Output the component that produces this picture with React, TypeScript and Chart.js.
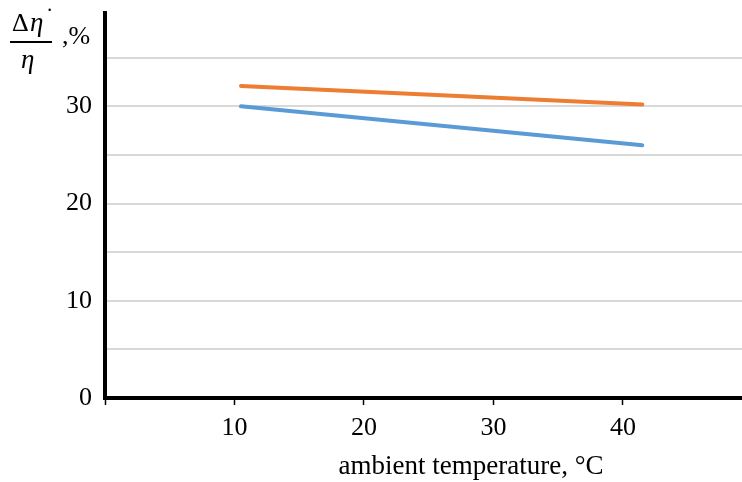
import React, { useEffect, useRef } from "react";
import { Chart, registerables } from "chart.js";

Chart.register(...registerables);

const temperature = [10.5, 41.5];
const seriesOrange = [32.1, 30.2];
const seriesBlue = [30.0, 26.0];
const xTickValues = [0, 10, 20, 30, 40];
const yTickValues = [0, 5, 10, 15, 20, 25, 30, 35];
const xTitle = "ambient temperature, °C";

const SERIF = '"Liberation Serif", "Times New Roman", serif';

const labelsPlugin = {
  id: "customLabels",
  afterDraw(chart: any) {
    const ctx = chart.ctx;
    ctx.save();
    ctx.fillStyle = "#000";
    ctx.textBaseline = "alphabetic";
    ctx.textAlign = "left";
    // fraction numerator
    ctx.font = `26px ${SERIF}`;
    ctx.fillText("Δ", 12, 31);
    ctx.font = `italic 27px ${SERIF}`;
    ctx.fillText("η", 30, 31);
    ctx.font = `bold 16px ${SERIF}`;
    ctx.fillText("˙", 47, 20);
    // fraction bar
    ctx.fillRect(10, 41, 42, 2);
    // denominator
    ctx.font = `italic 27px ${SERIF}`;
    ctx.fillText("η", 21, 68);
    // unit
    ctx.font = `26px ${SERIF}`;
    ctx.fillText(",%", 62, 44);
    // x axis title
    ctx.textAlign = "center";
    ctx.font = `27px ${SERIF}`;
    ctx.fillText(xTitle, 471, 474);
    ctx.restore();
  },
};

export default function App() {
  const ref = useRef<HTMLCanvasElement | null>(null);
  useEffect(() => {
    if (!ref.current) return;
    const chart = new Chart(ref.current, {
      type: "line",
      data: {
        datasets: [
          {
            label: "orange",
            data: temperature.map((x, i) => ({ x, y: seriesOrange[i] })),
            borderColor: "#ED7D31",
            borderWidth: 4,
            pointRadius: 0,
            borderCapStyle: "round",
          },
          {
            label: "blue",
            data: temperature.map((x, i) => ({ x, y: seriesBlue[i] })),
            borderColor: "#5B9BD5",
            borderWidth: 4,
            pointRadius: 0,
            borderCapStyle: "round",
          },
        ],
      },
      options: {
        responsive: false,
        animation: false,
        devicePixelRatio: 1,
        layout: { padding: { top: 13, right: 0, left: 0, bottom: 0 } },
        plugins: { legend: { display: false }, tooltip: { enabled: false } },
        scales: {
          x: {
            type: "linear",
            min: 0,
            max: 49.2,
            afterBuildTicks: (s: any) => {
              s.ticks = xTickValues.map((v) => ({ value: v }));
            },
            afterFit: (s: any) => {
              s.height = 84;
              s.paddingLeft = 0;
              s.paddingRight = 0;
            },
            ticks: {
              callback: (v: any) => (v === 0 ? "" : String(v)),
              font: { family: SERIF, size: 26 },
              color: "#000",
              padding: 8,
              maxRotation: 0,
            },
            grid: {
              drawOnChartArea: false,
              drawTicks: true,
              tickLength: 7,
              tickColor: "#000",
              tickWidth: 1.5,
            },
            border: { display: true, color: "#000", width: 4 },
          },
          y: {
            type: "linear",
            min: 0,
            max: 39.6,
            afterBuildTicks: (s: any) => {
              s.ticks = yTickValues.map((v) => ({ value: v }));
            },
            afterFit: (s: any) => {
              s.width = 105;
              s.paddingTop = 0;
              s.paddingBottom = 0;
            },
            ticks: {
              callback: (v: any) => (v % 10 === 0 ? String(v) : ""),
              font: { family: SERIF, size: 26 },
              color: "#000",
              padding: 13,
            },
            grid: {
              color: "#d9d9d9",
              lineWidth: 2,
              drawTicks: false,
            },
            border: { display: true, color: "#000", width: 4 },
          },
        },
      },
      plugins: [labelsPlugin],
    } as any);
    return () => chart.destroy();
  }, []);
  return (
    <div style={{ position: "fixed", left: 0, top: 0, width: 742, height: 482, background: "#fff" }}>
      <canvas ref={ref} width={742} height={482} style={{ width: 742, height: 482, display: "block" }} />
    </div>
  );
}
